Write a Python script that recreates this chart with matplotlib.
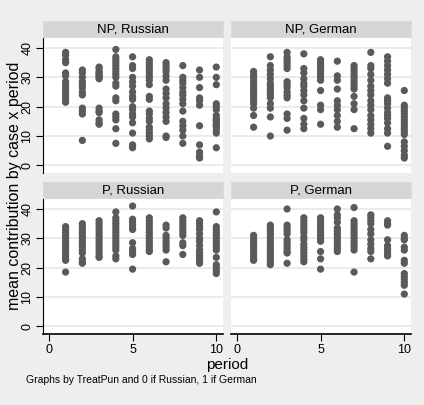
import matplotlib.pyplot as plt

# =============================================================================
# Data: mean contribution by case x period, one list of values per period
# =============================================================================

periods = [1, 2, 3, 4, 5, 6, 7, 8, 9, 10]

np_russian = [
    [38.5, 37.5, 36, 35, 31.5, 30.5, 28.5, 27.5, 26.5, 25.5, 24.5, 23.5, 22.5, 21.5],
    [32.5, 31.5, 30, 28.5, 27.5, 26.5, 25, 24, 19.5, 18.5, 17.5, 8.5],
    [33.5, 33, 32, 31.5, 31, 30.5, 30, 29.5, 19.5, 18.5, 18, 15.5, 14.5, 14],
    [39.5, 37, 36, 35, 34, 33, 32, 31, 30, 28, 27, 23, 22, 17.5, 16.5, 15.5, 12.5, 7.5],
    [37, 34, 33, 30, 28.5, 27, 25, 23.5, 22.5, 20, 19, 17.5, 16.5, 14.5, 11, 7, 6],
    [36, 35, 34, 33, 32, 31, 30, 29, 27.5, 23.5, 22.5, 18.5, 17.5, 16, 15, 13, 12, 11, 10, 9],
    [35, 34, 33, 32, 30.5, 29, 26, 24.5, 23, 21, 19.5, 18, 16.5, 15, 10, 9.5],
    [34, 30, 29, 28, 26.5, 25, 24, 22.5, 21, 18.5, 15, 13.5, 12, 10, 7.5],
    [32.5, 30, 26.5, 23, 22, 20.5, 13.5, 7, 4.5, 3.3, 2.5],
    [33.5, 30, 27.5, 21, 20, 19, 17, 16, 15.5, 15, 14, 13.5, 13, 12, 11, 6],
]

np_german = [
    [32, 31, 30, 29, 28, 27, 26, 25, 24, 23, 22, 21, 19.5, 17, 13],
    [37, 34, 32.5, 31, 29.5, 28, 27, 26, 25, 24, 23, 21, 19.5, 16.5, 10],
    [38.5, 37, 36, 35, 34, 33, 28.5, 27.5, 26.5, 25, 24, 23, 17.5, 16, 12],
    [38, 33, 31.5, 29.5, 28, 27, 25.5, 24, 22, 19.5, 16, 14, 12.5],
    [36, 35, 34, 33, 32, 31, 30, 29, 25.5, 20.5, 19, 14],
    [35.5, 30.5, 29, 26, 22, 20.5, 19, 17, 15, 13],
    [34, 33, 32, 31, 30, 29, 28, 27, 26, 23.5, 21, 19, 12.5],
    [38.5, 34, 33, 31, 29, 27, 25.5, 24, 22, 20.5, 19, 17, 15.5, 14, 12.5, 11],
    [37, 35.5, 34, 32.5, 31, 29.5, 28, 23, 22, 21, 19.5, 18, 17, 16, 14.5, 12.5, 11, 6.5],
    [25.5, 20.5, 19.5, 18.5, 17.5, 16.5, 15.5, 14.5, 13.5, 12.5, 11.5, 10.5, 8, 6.5, 5, 3.5, 2.5],
]

p_russian = [
    [34, 33, 32, 31, 30, 29, 28, 27, 26, 25, 24, 23, 22.5, 18.5],
    [35, 34, 33, 32, 31, 30, 29, 28, 27, 26, 25, 23, 22, 21.5],
    [36, 35, 34, 33, 32, 31, 30, 29, 28, 27, 26, 25, 24, 23.5],
    [39, 37, 36, 35, 34, 33, 32, 31, 30, 29, 28, 27, 26, 24, 23],
    [41, 36.5, 35.5, 34.5, 33.5, 33, 28.5, 26.5, 25.5, 24.5, 19.5],
    [37, 36, 35, 34, 33, 32, 31, 30, 29, 28, 27, 26, 25.5],
    [34.5, 33.5, 31, 30, 29, 28, 27, 26, 22],
    [37, 36, 35, 34, 33, 32, 31, 28.5, 27.5, 24.5],
    [36, 35, 34, 33, 31.5, 30, 29, 27.5, 26, 25, 24, 23, 22, 21.5],
    [39, 34, 33, 32, 31, 30, 29, 28, 27, 26, 23.5, 21, 20, 19, 18],
]

p_german = [
    [31, 30, 29, 28, 27, 26, 25, 24, 23, 22.5],
    [34.5, 33.5, 32.5, 31.5, 30.5, 29.5, 28.5, 27.5, 26.5, 25.5, 24.5, 23.5, 22.5, 21.5, 21],
    [40, 34.5, 33.5, 32.5, 31.5, 29.5, 28.5, 27.5, 26.5, 25.5, 25, 21.5],
    [37, 36, 35, 34, 33, 32, 30.5, 29.5, 28, 27, 26, 25, 24, 23, 22],
    [37, 36, 35, 34, 33, 32, 31, 30, 29, 25.5, 23, 19.5],
    [40, 38, 37, 35.5, 33.5, 32.5, 31.5, 30.5, 29.5, 28.5, 27.5, 26.5, 25.5],
    [40.5, 36, 35, 34, 33, 32, 31, 30, 29, 28, 27, 26, 18.5],
    [38, 37, 36, 35, 33, 31.5, 29.5, 28, 26.5, 25.5, 23],
    [36, 35, 34.5, 29.5, 27.5, 26.5, 25.5, 24.5, 24],
    [31, 30, 29.5, 27, 26, 22.5, 21.5, 18, 17, 16, 15, 14, 11],
]

titles = ['NP, Russian', 'NP, German', 'P, Russian', 'P, German']
yticks = [0, 10, 20, 30, 40]
xticks = [0, 5, 10]

# =============================================================================
# Figure setup (Stata-like look)
# =============================================================================

plt.rcParams['font.family'] = ['Liberation Sans', 'DejaVu Sans']

W, H = 424, 405
bg = '#eeeeee'
strip_color = '#d5d5d5'
marker_color = '#5a5a5a'
grid_color = '#e8e8e8'

fig = plt.figure(figsize=(W / 100, H / 100), dpi=100, facecolor=bg)

# pixel boxes (left, top) of each plot region, each 180 x 135 px
boxes = [(43, 38), (231, 38), (43, 199), (231, 199)]
datasets = [np_russian, np_german, p_russian, p_german]

for i, (data, title, (x0, y0)) in enumerate(zip(datasets, titles, boxes)):
    ax = fig.add_axes([x0 / W, 1 - (y0 + 135) / H, 180 / W, 135 / H])
    ax.set_facecolor('white')
    for p, vals in zip(periods, data):
        ax.scatter([p] * len(vals), vals, s=27, color=marker_color,
                   edgecolors='none', zorder=3)
    ax.set_xlim(-0.35, 10.4)
    ax.set_ylim(-2.6, 43.4)
    ax.set_yticks(yticks)
    ax.set_xticks(xticks)
    ax.yaxis.grid(True, color=grid_color, lw=1.2)
    ax.set_axisbelow(True)
    for s in ax.spines.values():
        s.set_visible(False)

    left_col = (i % 2 == 0)
    bottom_row = (i >= 2)
    if left_col:
        ax.spines['left'].set_visible(True)
        ax.spines['left'].set_color('black')
        ax.tick_params(axis='y', length=5, width=0.8, labelsize=9, pad=2)
        for lab in ax.get_yticklabels():
            lab.set_rotation(90)
            lab.set_va('center')
    else:
        ax.tick_params(axis='y', length=0, labelleft=False)
    if bottom_row:
        ax.spines['bottom'].set_visible(True)
        ax.spines['bottom'].set_color('black')
        ax.spines['bottom'].set_linewidth(1.2)
        ax.tick_params(axis='x', length=5, width=0.8, labelsize=9, pad=2)
    else:
        ax.tick_params(axis='x', length=0, labelbottom=False)

    # strip title
    sax = fig.add_axes([x0 / W, 1 - (y0 - 1) / H, 180 / W, 16 / H])
    sax.set_facecolor(strip_color)
    sax.set_xticks([])
    sax.set_yticks([])
    for s in sax.spines.values():
        s.set_color('#cfdfe3')
        s.set_linewidth(0.8)
    sax.text(0.5, 0.45, title, ha='center', va='center', fontsize=9.5,
             transform=sax.transAxes)

fig.text(15 / W, 1 - 186 / H, 'mean contribution by case x period', rotation=90,
         ha='center', va='center', fontsize=11.5)
fig.text(227 / W, 1 - 365 / H, 'period', ha='center', va='center', fontsize=11)
fig.text(26 / W, 1 - 380 / H, 'Graphs by TreatPun and 0 if Russian, 1 if German',
         ha='left', va='center', fontsize=7.5)

fig.savefig('out.png', dpi=100, facecolor=bg)
